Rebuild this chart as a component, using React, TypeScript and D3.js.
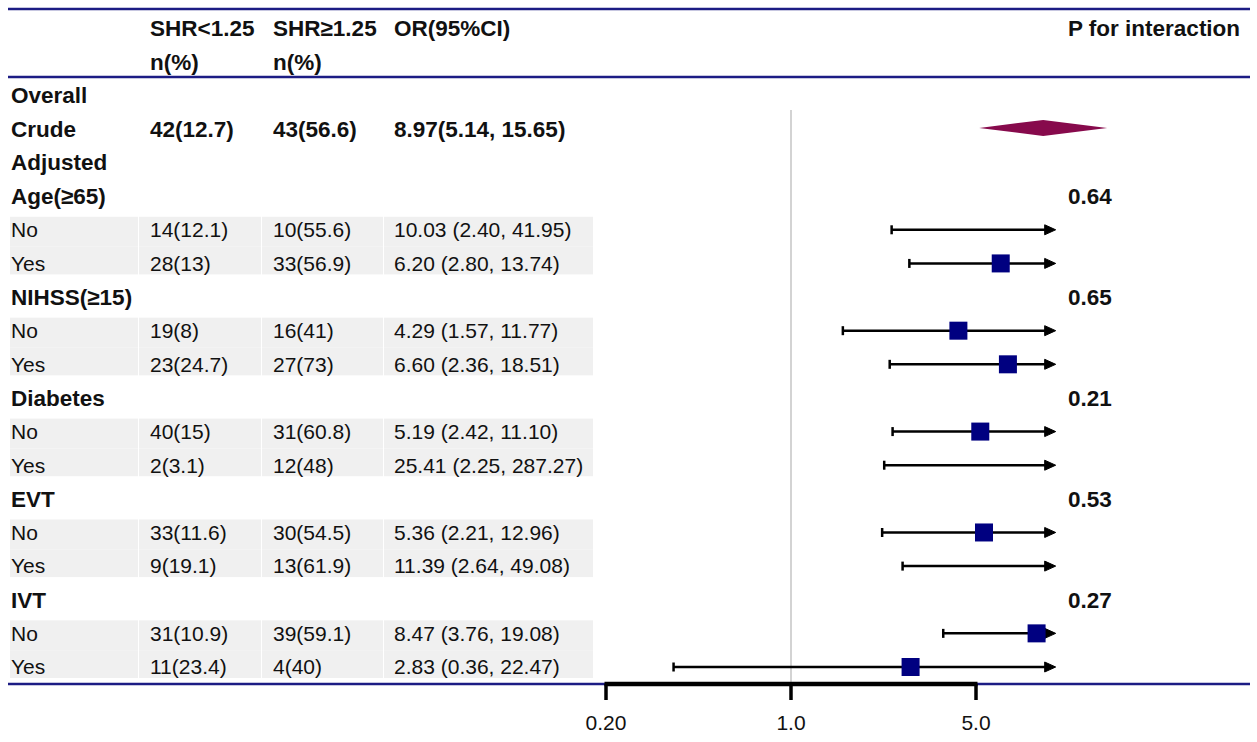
import React, { useEffect, useRef } from 'react'
import * as d3 from 'd3'

const groups = ['Age(≥65)', 'NIHSS(≥15)', 'Diabetes', 'EVT', 'IVT']
const pInteraction = ['0.64', '0.65', '0.21', '0.53', '0.27']
const subLabels = ['No', 'Yes']

const subLow = ['14(12.1)', '28(13)', '19(8)', '23(24.7)', '40(15)', '2(3.1)', '33(11.6)', '9(19.1)', '31(10.9)', '11(23.4)']
const subHigh = ['10(55.6)', '33(56.9)', '16(41)', '27(73)', '31(60.8)', '12(48)', '30(54.5)', '13(61.9)', '39(59.1)', '4(40)']
const subOR = [10.03, 6.2, 4.29, 6.6, 5.19, 25.41, 5.36, 11.39, 8.47, 2.83]
const subLower = [2.4, 2.8, 1.57, 2.36, 2.42, 2.25, 2.21, 2.64, 3.76, 0.36]
const subUpper = [41.95, 13.74, 11.77, 18.51, 11.1, 287.27, 12.96, 49.08, 19.08, 22.47]

const crudeLow = '42(12.7)'
const crudeHigh = '43(56.6)'
const crudeOR = 8.97
const crudeLower = 5.14
const crudeUpper = 15.65

const axisTicks = [0.2, 1, 5]
const axisTickLabels = ['0.20', '1.0', '5.0']
const clipMax = 10

const FONT = 'Liberation Sans, Arial, Helvetica, sans-serif'

interface Row {
    kind: 'header1' | 'header2' | 'bold' | 'crude' | 'group' | 'sub'
    label: string
    low?: string
    high?: string
    ci?: string
    p?: string
    idx?: number
}

const fmt = (v: number) => v.toFixed(2)

const App: React.FC = () => {
    const chartRef = useRef<SVGSVGElement | null>(null)

    useEffect(() => {
        document.body.style.margin = '0'
        if (!chartRef.current) return
        const width = 1257
        const height = 742

        const svg = d3.select(chartRef.current)
            .attr('width', width)
            .attr('height', height)
            .attr('viewBox', `0 0 ${width} ${height}`)
        svg.selectAll('*').remove()

        // build the row layout
        const rows: Row[] = []
        rows.push({ kind: 'header1', label: '' })
        rows.push({ kind: 'header2', label: '' })
        rows.push({ kind: 'bold', label: 'Overall' })
        rows.push({
            kind: 'crude', label: 'Crude', low: crudeLow, high: crudeHigh,
            ci: `${fmt(crudeOR)}(${fmt(crudeLower)}, ${fmt(crudeUpper)})`
        })
        rows.push({ kind: 'bold', label: 'Adjusted' })
        groups.forEach((g, gi) => {
            rows.push({ kind: 'group', label: g, p: pInteraction[gi] })
            subLabels.forEach((s, si) => {
                const i = gi * 2 + si
                rows.push({
                    kind: 'sub', label: s, low: subLow[i], high: subHigh[i],
                    ci: `${fmt(subOR[i])} (${fmt(subLower[i])}, ${fmt(subUpper[i])})`, idx: i
                })
            })
        })

        const y = d3.scaleLinear().domain([0, rows.length - 1]).range([28, 667])
        const x = d3.scaleLog().domain([0.2, 5]).range([606, 976])

        const colX = [11, 150, 273, 394]
        const cellEdges = [10, 138, 261, 383, 593]

        // grey background cells for subgroup rows
        rows.forEach((r, i) => {
            if (r.kind !== 'sub') return
            const first = rows[i - 1].kind !== 'sub'
            const top = first ? y(i) - 13 : y(i) - y(1) / 2 + y(0) / 2
            const bottom = first ? (y(i) + y(i + 1)) / 2 : y(i) + 11
            for (let c = 0; c < 4; c++) {
                svg.append('rect')
                    .attr('x', cellEdges[c] + (c === 0 ? 0 : 1))
                    .attr('y', top)
                    .attr('width', cellEdges[c + 1] - cellEdges[c] - (c === 0 ? 0 : 1))
                    .attr('height', bottom - top)
                    .attr('fill', '#f0f0f0')
            }
        })

        // horizontal rules
        const rule = (yy: number) => svg.append('line')
            .attr('x1', 8).attr('x2', 1250)
            .attr('y1', yy).attr('y2', yy)
            .attr('stroke', '#1c1c84').attr('stroke-width', 2.5)
        rule(9)
        rule(77)
        rule(684)

        // reference line at OR = 1
        svg.append('line')
            .attr('x1', x(1)).attr('x2', x(1))
            .attr('y1', 110).attr('y2', 684)
            .attr('stroke', '#c4c4c4').attr('stroke-width', 1.5)

        const text = (tx: number, ty: number, s: string, bold: boolean, anchor = 'start') =>
            svg.append('text')
                .attr('x', tx).attr('y', ty).attr('dy', '0.35em')
                .attr('text-anchor', anchor)
                .style('font-family', FONT)
                .style('font-size', bold ? '22.5px' : '21px')
                .style('font-weight', bold ? 'bold' : 'normal')
                .style('fill', '#111')
                .text(s)

        // headers
        text(colX[1], y(0), 'SHR<1.25', true)
        text(colX[2], y(0), 'SHR≥1.25', true)
        text(colX[3], y(0), 'OR(95%CI)', true)
        text(1068, y(0), 'P for interaction', true)
        text(colX[1], y(1), 'n(%)', true)
        text(colX[2], y(1), 'n(%)', true)

        rows.forEach((r, i) => {
            if (r.kind === 'header1' || r.kind === 'header2') return
            const bold = r.kind !== 'sub'
            text(colX[0], y(i), r.label, bold)
            if (r.low) text(colX[1], y(i), r.low, bold)
            if (r.high) text(colX[2], y(i), r.high, bold)
            if (r.ci) text(colX[3], y(i), r.ci, bold)
            if (r.p) text(1068, y(i), r.p, true)
        })

        // crude diamond
        const crudeRow = rows.findIndex(r => r.kind === 'crude')
        const cy = y(crudeRow) - 1
        svg.append('path')
            .attr('d', d3.line()([
                [x(crudeLower), cy], [x(crudeOR), cy - 8],
                [x(crudeUpper), cy], [x(crudeOR), cy + 8]
            ]) + 'Z')
            .attr('fill', '#870a4c')

        // subgroup CIs
        rows.forEach((r, i) => {
            if (r.kind !== 'sub' || r.idx === undefined) return
            const k = r.idx
            const yy = y(i)
            const lo = Math.max(subLower[k], 0.1)
            const hiClipped = subUpper[k] > clipMax
            const x0 = x(lo)
            const x1 = x(Math.min(subUpper[k], clipMax))
            svg.append('line')
                .attr('x1', x0).attr('x2', hiClipped ? x1 - 8 : x1)
                .attr('y1', yy).attr('y2', yy)
                .attr('stroke', '#000').attr('stroke-width', 2.5)
            svg.append('line')
                .attr('x1', x0).attr('x2', x0)
                .attr('y1', yy - 4.5).attr('y2', yy + 4.5)
                .attr('stroke', '#000').attr('stroke-width', 2.5)
            if (hiClipped) {
                svg.append('path')
                    .attr('d', d3.line()([[x1 - 11, yy - 5], [x1, yy], [x1 - 11, yy + 5]]) + 'Z')
                    .attr('fill', '#000')
                    .attr('stroke', '#000').attr('stroke-width', 1)
                    .attr('stroke-linejoin', 'round')
            }
            if (subOR[k] <= clipMax) {
                svg.append('rect')
                    .attr('x', x(subOR[k]) - 9)
                    .attr('y', yy - 9)
                    .attr('width', 18).attr('height', 18)
                    .attr('fill', '#000080')
            }
        })

        // x axis
        const axisY = 684
        svg.append('line')
            .attr('x1', x(axisTicks[0]) - 1.5).attr('x2', x(axisTicks[axisTicks.length - 1]) + 1.5)
            .attr('y1', axisY).attr('y2', axisY)
            .attr('stroke', '#000').attr('stroke-width', 4.5)
        axisTicks.forEach((t, i) => {
            svg.append('line')
                .attr('x1', x(t)).attr('x2', x(t))
                .attr('y1', axisY).attr('y2', 700)
                .attr('stroke', '#000').attr('stroke-width', 3.5)
            text(x(t), 723, axisTickLabels[i], false, 'middle')
        })
    }, [])

    return <svg ref={chartRef} style={{ display: 'block', background: '#fff' }}></svg>
}

export default App
